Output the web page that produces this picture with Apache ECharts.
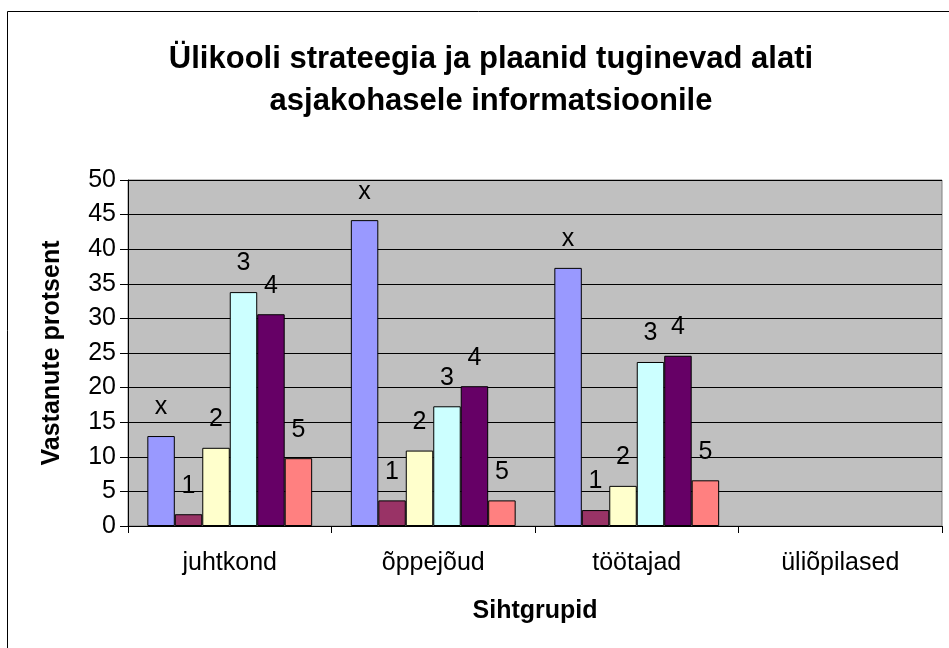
<!DOCTYPE html>
<html>
<head>
<meta charset="utf-8">
<script src="https://cdn.jsdelivr.net/npm/echarts@6/dist/echarts.min.js"></script>
<style>
  html, body { margin: 0; padding: 0; background: #fff; }
  #chart { width: 949px; height: 648px; }
</style>
</head>
<body>
<div id="chart"></div>
<script>
// categories (Sihtgrupid)
const categories = ['juhtkond', 'õppejõud', 'töötajad', 'üliõpilased']
// answer series, values in percent (üliõpilased has no data)
const seriesNames = ['x', '1', '2', '3', '4', '5']
const valuesX = [13.0, 44.2, 37.3, null]
const values1 = [1.7, 3.7, 2.3, null]
const values2 = [11.3, 10.9, 5.8, null]
const values3 = [33.8, 17.3, 23.7, null]
const values4 = [30.6, 20.2, 24.6, null]
const values5 = [9.8, 3.7, 6.6, null]
const seriesColors = ['#9999FF', '#993366', '#FFFFCC', '#CCFFFF', '#660066', '#FF8080']

const font = '"Liberation Sans", Arial, sans-serif'
const allValues = [valuesX, values1, values2, values3, values4, values5]

const chart = echarts.init(document.getElementById('chart'))
const option = {
  animation: false,
  backgroundColor: '#fff',
  textStyle: { fontFamily: font },
  title: {
    text: 'Ülikooli strateegia ja plaanid tuginevad alati\nasjakohasele informatsioonile',
    left: 486,
    top: 33,
    textAlign: 'center',
    textStyle: {
      fontFamily: font,
      fontSize: 31,
      fontWeight: 'bold',
      color: '#000',
      lineHeight: 42
    }
  },
  graphic: [
    {
      type: 'rect',
      shape: { x: 7.5, y: 11.5, width: 1000, height: 1000 },
      style: { fill: null, stroke: '#000', lineWidth: 1 },
      silent: true,
      z: -1
    }
  ],
  grid: {
    left: 128,
    right: 7,
    top: 180,
    bottom: 122,
    show: true,
    backgroundColor: '#C0C0C0',
    borderColor: '#808080',
    borderWidth: 1
  },
  xAxis: {
    type: 'category',
    data: categories,
    name: 'Sihtgrupid',
    nameLocation: 'middle',
    nameGap: 73,
    nameTextStyle: { fontFamily: font, fontSize: 25, fontWeight: 'bold', color: '#000' },
    axisLine: { lineStyle: { color: '#000', width: 1 } },
    axisTick: { show: true, length: 7, lineStyle: { color: '#000' } },
    axisLabel: { fontFamily: font, fontSize: 25, color: '#000', margin: 25 },
    splitLine: { show: false }
  },
  yAxis: {
    type: 'value',
    min: 0,
    max: 50,
    interval: 5,
    name: 'Vastanute protsent',
    nameLocation: 'middle',
    nameGap: 63,
    nameTextStyle: { fontFamily: font, fontSize: 25, fontWeight: 'bold', color: '#000' },
    axisLine: { show: true, lineStyle: { color: '#000', width: 1 } },
    axisTick: { show: true, length: 8, lineStyle: { color: '#000' } },
    axisLabel: { fontFamily: font, fontSize: 25, color: '#000', margin: 12 },
    splitLine: { show: true, lineStyle: { color: '#000', width: 1 } }
  },
  series: seriesNames.map((name, i) => ({
    name: name,
    type: 'bar',
    data: allValues[i],
    barGap: '0%',
    barCategoryGap: '19%',
    itemStyle: { color: seriesColors[i], borderColor: '#000', borderWidth: 1 },
    label: {
      show: true,
      position: 'top',
      distance: 16,
      formatter: name,
      fontFamily: font,
      fontSize: 25,
      color: '#000'
    }
  }))
}
chart.setOption(option)
</script>
</body>
</html>
